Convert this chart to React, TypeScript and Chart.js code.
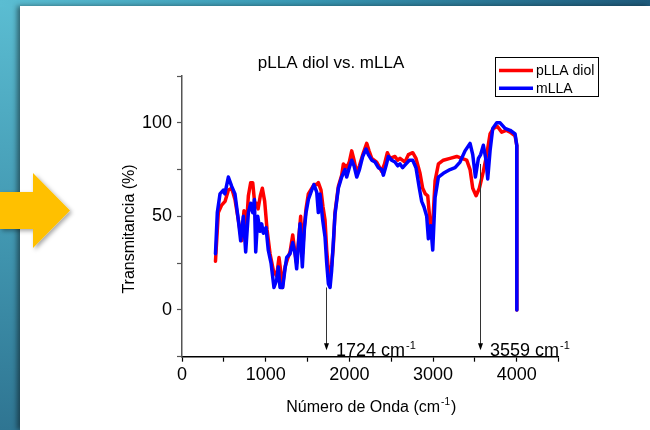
import React, { useEffect, useRef } from 'react';
import { Chart, registerables } from 'chart.js';

Chart.register(...registerables);

const FONT = '"Liberation Sans", Arial, sans-serif';

const TITLE = 'pLLA diol vs. mLLA';
const SERIES_NAMES = ['pLLA diol', 'mLLA'];
const SERIES_COLORS = ['#ff0000', '#0000ff'];
const X_TITLE = 'Número de Onda (cm';
const X_TITLE_SUP = '-1';
const Y_TITLE = 'Transmitancia (%)';

const X_TICKS = [0, 500, 1000, 1500, 2000, 2500, 3000, 3500, 4000, 4500];
const X_LABELS = [0, 1000, 2000, 3000, 4000];
const Y_TICKS = [-25, 0, 25, 50, 75, 100, 125];
const Y_LABELS = [0, 50, 100];

const ANNOT_X = [1724, 3559];
const ANNOT_TOP = [12, 78];
const ANNOT_BOTTOM = -21.5;
const ANNOT_TEXT = ['1724 cm', '3559 cm'];
const ANNOT_SUP = '-1';

// pLLA diol (red)
const PLLA_X = [400, 434, 474, 514, 554, 594, 633, 673, 713, 741, 765, 793, 821, 845, 873, 889, 909, 936, 960, 988,
  1016, 1052, 1092, 1131, 1159, 1179, 1199, 1231, 1259, 1291, 1323, 1351, 1370, 1390, 1418, 1440, 1462, 1482, 1510, 1550,
  1577, 1610, 1629, 1661, 1685, 1709, 1729, 1749, 1769, 1788, 1808, 1828, 1868, 1908, 1928, 1968, 1999, 2028, 2056, 2088,
  2120, 2167, 2207, 2235, 2267, 2326, 2386, 2420, 2454, 2486, 2545, 2577, 2605, 2665, 2705, 2757, 2796, 2844, 2876, 2908,
  2936, 2964, 2984, 2996, 3024, 3064, 3123, 3203, 3283, 3342, 3402, 3442, 3474, 3514, 3553, 3601, 3641, 3681, 3721, 3769,
  3820, 3872, 3920, 3980, 4000, 4001];
const PLLA_Y = [26, 52, 56, 58, 64, 65, 59, 48, 37, 53, 41, 61, 68, 68, 55, 57, 54, 61, 65, 58,
  43, 30, 21, 18, 28, 21, 12, 23, 27, 31, 40, 30, 25, 36, 50, 30, 45, 54, 62, 65,
  67, 67, 68, 64, 55, 48, 32, 21, 18, 24, 34, 52, 66, 72, 78, 76, 79, 85, 80, 73,
  77, 84, 89, 85, 81, 79, 74, 78, 84, 81, 82, 80, 81, 79, 83, 84, 81, 73, 65, 62,
  61, 47, 41, 46, 69, 78, 80, 81, 82, 81, 80, 75, 65, 61, 65, 74, 83, 94, 97, 98,
  95, 96, 95, 93, 88, 0];

// mLLA (blue)
const MLLA_X = [400, 422, 454, 494, 512, 554, 594, 633, 673, 701, 733, 761, 793, 821, 845, 865, 881, 905, 932, 952,
  972, 1004, 1031, 1064, 1099, 1131, 1151, 1171, 1203, 1231, 1251, 1291, 1323, 1351, 1370, 1390, 1410, 1438, 1462, 1482,
  1510, 1550, 1577, 1610, 1629, 1649, 1681, 1709, 1729, 1749, 1769, 1788, 1808, 1828, 1868, 1908, 1948, 1968, 1999, 2028,
  2056, 2088, 2120, 2159, 2199, 2227, 2267, 2307, 2346, 2386, 2406, 2438, 2466, 2506, 2545, 2577, 2605, 2637, 2677, 2717,
  2757, 2796, 2836, 2864, 2892, 2924, 2944, 2972, 2996, 3024, 3064, 3123, 3203, 3263, 3322, 3382, 3442, 3474, 3506, 3542,
  3569, 3601, 3633, 3653, 3681, 3713, 3761, 3801, 3860, 3920, 3980, 4000, 4001];
const MLLA_Y = [30, 52, 62, 64, 62, 71, 66, 62, 48, 37, 50, 31, 52, 57, 52, 59, 31, 50, 42, 46,
  41, 44, 32, 25, 12, 16, 23, 12, 12, 22, 28, 30, 36, 30, 22, 34, 46, 23, 43, 52,
  59, 64, 67, 63, 52, 62, 48, 39, 25, 14, 12, 21, 36, 51, 65, 71, 75, 71, 76, 80,
  77, 71, 75, 82, 86, 83, 80, 79, 76, 75, 72, 77, 82, 80, 79, 77, 78, 76, 78, 80,
  80, 76, 65, 58, 55, 50, 38, 45, 32, 60, 71, 73, 75, 76, 79, 85, 89, 83, 71, 81,
  83, 88, 80, 70, 85, 97, 100, 100, 97, 96, 94, 88, 0];

const toPoints = (xs: number[], ys: number[]) => xs.map((x, i) => ({ x, y: ys[i] }));

function drawSup(ctx: CanvasRenderingContext2D, base: string, sup: string, tail: string, x: number, y: number, size: number, center: boolean) {
  const supSize = Math.round(size * 0.62);
  ctx.font = `${size}px ${FONT}`;
  const wb = ctx.measureText(base).width;
  const wt = ctx.measureText(tail).width;
  ctx.font = `${supSize}px ${FONT}`;
  const ws = ctx.measureText(sup).width;
  let start = x;
  if (center) start = x - (wb + ws + wt) / 2;
  ctx.textAlign = 'left';
  ctx.textBaseline = 'alphabetic';
  ctx.font = `${size}px ${FONT}`;
  ctx.fillText(base, start, y);
  ctx.font = `${supSize}px ${FONT}`;
  ctx.fillText(sup, start + wb + 1, y - size * 0.42);
  if (tail) {
    ctx.font = `${size}px ${FONT}`;
    ctx.fillText(tail, start + wb + ws + 2, y);
  }
}

const overlayPlugin = {
  id: 'overlay',
  afterDatasetsDraw(chart: any) {
    const { ctx, scales } = chart;
    const xs = scales.x;
    const ys = scales.y;
    ctx.save();
    ANNOT_X.forEach((ax, i) => {
      const px = Math.round(xs.getPixelForValue(ax)) + 0.5;
      const top = ys.getPixelForValue(ANNOT_TOP[i]);
      const bot = ys.getPixelForValue(ANNOT_BOTTOM);
      ctx.strokeStyle = '#333';
      ctx.lineWidth = 1;
      ctx.beginPath();
      ctx.moveTo(px, top);
      ctx.lineTo(px, bot - 6);
      ctx.stroke();
      ctx.fillStyle = '#000';
      ctx.beginPath();
      ctx.moveTo(px - 2.5, bot - 7);
      ctx.lineTo(px + 2.5, bot - 7);
      ctx.lineTo(px, bot);
      ctx.closePath();
      ctx.fill();
      ctx.fillStyle = '#000';
      drawSup(ctx, ANNOT_TEXT[i], ANNOT_SUP, '', px + 9.5, chart.chartArea.bottom - 0.5, 18, false);
    });
    ctx.restore();
  },
  afterDraw(chart: any) {
    const { ctx, chartArea } = chart;
    ctx.save();
    ctx.fillStyle = '#000';
    ctx.font = `17px ${FONT}`;
    ctx.textAlign = 'center';
    ctx.textBaseline = 'alphabetic';
    ctx.fillText(TITLE, 331, 68);
    ctx.save();
    ctx.translate(134, 229);
    ctx.rotate(-Math.PI / 2);
    ctx.font = `16px ${FONT}`;
    ctx.textAlign = 'center';
    ctx.textBaseline = 'alphabetic';
    ctx.fillText(Y_TITLE, 0, 0);
    ctx.restore();
    drawSup(ctx, X_TITLE, X_TITLE_SUP, ')', (chartArea.left + chartArea.right) / 2, 412, 16, true);
    const lx = 495.5, ly = 57.5, lw = 103, lh = 39;
    ctx.fillStyle = '#fff';
    ctx.fillRect(lx, ly, lw, lh);
    ctx.strokeStyle = '#000';
    ctx.lineWidth = 1;
    ctx.strokeRect(lx, ly, lw, lh);
    chart.data.datasets.forEach((ds: any, i: number) => {
      const cy = 70.5 + i * 17.7;
      ctx.strokeStyle = ds.borderColor;
      ctx.lineWidth = 3.5;
      ctx.beginPath();
      ctx.moveTo(499, cy);
      ctx.lineTo(533, cy);
      ctx.stroke();
      ctx.fillStyle = '#000';
      ctx.font = `14px ${FONT}`;
      ctx.textAlign = 'left';
      ctx.textBaseline = 'middle';
      ctx.fillText(ds.label, 536, cy + 0.5);
    });
    ctx.restore();
  },
};

export default function App() {
  const ref = useRef<HTMLCanvasElement | null>(null);

  useEffect(() => {
    if (!ref.current) return;
    const mk = (i: number, xs: number[], ys: number[], order: number) => ({
      label: SERIES_NAMES[i],
      data: toPoints(xs, ys),
      borderColor: SERIES_COLORS[i],
      backgroundColor: SERIES_COLORS[i],
      borderWidth: 3.5,
      borderJoinStyle: 'round',
      borderCapStyle: 'round',
      pointRadius: 0,
      tension: 0,
      order,
    });
    const chart = new Chart(ref.current, {
      type: 'line',
      data: {
        datasets: [mk(0, PLLA_X, PLLA_Y, 2), mk(1, MLLA_X, MLLA_Y, 1)],
      },
      options: {
        responsive: false,
        animation: false,
        devicePixelRatio: 1,
        layout: { padding: { left: 122, right: 91.4, top: 76, bottom: 43.3 } },
        plugins: { legend: { display: false }, title: { display: false }, tooltip: { enabled: false } },
        scales: {
          x: {
            type: 'linear',
            min: 0,
            max: 4500,
            afterBuildTicks: (s: any) => { s.ticks = X_TICKS.map((v) => ({ value: v })); },
            afterFit: (s: any) => { s.height = 30; },
            border: { display: true, color: '#000', width: 1.5 },
            grid: { display: true, drawOnChartArea: false, drawTicks: true, tickLength: 5, tickColor: '#000', tickWidth: 1.2 },
            ticks: {
              autoSkip: false,
              maxRotation: 0,
              padding: 3,
              color: '#000',
              font: { family: FONT, size: 18 },
              callback: (v: any) => (X_LABELS.includes(Number(v)) ? String(v) : ''),
            },
          },
          y: {
            type: 'linear',
            min: -25,
            max: 125,
            afterBuildTicks: (s: any) => { s.ticks = Y_TICKS.map((v) => ({ value: v })); },
            afterFit: (s: any) => { s.width = 60; },
            border: { display: true, color: '#555', width: 1.5 },
            grid: { display: true, drawOnChartArea: false, drawTicks: true, tickLength: 5, tickColor: '#555', tickWidth: 1.2 },
            ticks: {
              autoSkip: false,
              padding: 5,
              color: '#000',
              font: { family: FONT, size: 18 },
              callback: (v: any) => (Y_LABELS.includes(Number(v)) ? String(v) : ''),
            },
          },
        },
      },
      plugins: [overlayPlugin],
    } as any);
    return () => chart.destroy();
  }, []);

  return (
    <div style={{ position: 'absolute', left: 0, top: 0, width: 650, height: 430, overflow: 'hidden',
      background: 'linear-gradient(180deg, #5bbdd2 0%, #3f93ad 60%, #2f7592 100%)' }}>
      <div style={{ position: 'absolute', left: 0, top: 0, width: 650, height: 7,
        background: 'linear-gradient(90deg, #5bbdd2 0%, #3a9ab5 45%, #1e5a7b 100%)' }} />
      <div style={{ position: 'absolute', left: 20, top: 6, width: 630, height: 424, background: '#fff',
        boxShadow: '-3px 0 5px rgba(0,0,0,0.45)' }} />
      <svg width={80} height={90} style={{ position: 'absolute', left: 0, top: 165, overflow: 'visible' }}>
        <defs>
          <filter id="sh" x="-20%" y="-20%" width="150%" height="150%">
            <feDropShadow dx="2" dy="2" stdDeviation="2" floodColor="#000" floodOpacity="0.35" />
          </filter>
        </defs>
        <polygon points="0,27 33,27 33,8 70,45.5 33,83 33,64 0,64" fill="#ffc000" filter="url(#sh)" />
      </svg>
      <canvas ref={ref} width={650} height={430} style={{ position: 'absolute', left: 0, top: 0, width: 650, height: 430 }} />
    </div>
  );
}
